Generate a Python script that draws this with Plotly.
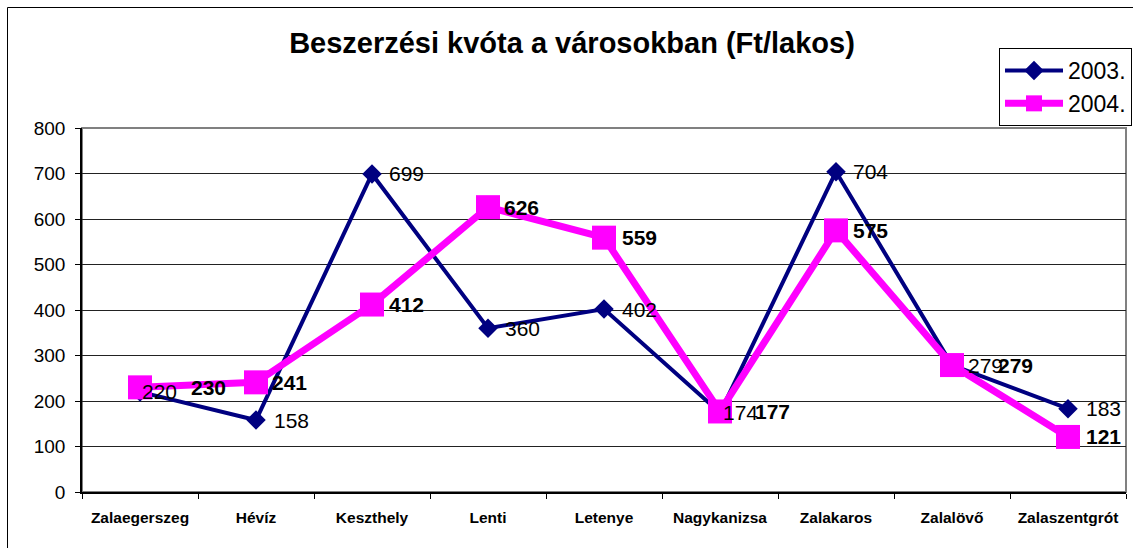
import plotly.graph_objects as go

categories = ["Zalaegerszeg", "Hévíz", "Keszthely", "Lenti", "Letenye",
              "Nagykanizsa", "Zalakaros", "Zalalövő", "Zalaszentgrót"]
values_2003 = [220, 158, 699, 360, 402, 174, 704, 279, 183]
values_2004 = [230, 241, 412, 626, 559, 177, 575, 279, 121]
series_names = ["2003.", "2004."]
title_text = "Beszerzési kvóta a városokban (Ft/lakos)"
y_ticks = [0, 100, 200, 300, 400, 500, 600, 700, 800]

# label horizontal offsets (pixels, style only)
shift_2003 = [0, 16, 15, 15, 16, 1, 15, 14, 16]
shift_2004 = [49, 14, 15, 14, 16, 33, 15, 44, 16]

FONT = "Liberation Sans, Arial, sans-serif"

fig = go.Figure()
fig.add_trace(go.Scatter(
    x=categories, y=values_2003, name=series_names[0], mode="lines+markers",
    line=dict(color="#000080", width=4),
    marker=dict(symbol="diamond", size=15, color="#000080"),
))
fig.add_trace(go.Scatter(
    x=categories, y=values_2004, name=series_names[1], mode="lines+markers",
    line=dict(color="#FF00FF", width=7),
    marker=dict(symbol="square", size=24, color="#FF00FF"),
))

annotations = []
for c, v, s in zip(categories, values_2003, shift_2003):
    annotations.append(dict(x=c, y=v, xref="x", yref="y", text=str(v),
                            showarrow=False, xanchor="left", yanchor="middle",
                            xshift=s, font=dict(family=FONT, size=21, color="black")))
for c, v, s in zip(categories, values_2004, shift_2004):
    annotations.append(dict(x=c, y=v, xref="x", yref="y", text="<b>%d</b>" % v,
                            showarrow=False, xanchor="left", yanchor="middle",
                            xshift=s, font=dict(family=FONT, size=21, color="black")))

W, H = 1133, 548
L, R, T, B = 82, 7, 128, 56
pw, ph = W - L - R, H - T - B

def px_x(x):
    return (x - L) / pw

def px_y(y):
    return (H - B - y) / ph

shapes = [
    # plot area border (gray)
    dict(type="rect", xref="paper", yref="paper", x0=0, x1=1, y0=0, y1=1,
         line=dict(color="#808080", width=2), layer="below"),
    # outer chart border
    dict(type="rect", xref="paper", yref="paper",
         x0=px_x(7.5), x1=px_x(1145), y0=px_y(560), y1=px_y(7.5),
         line=dict(color="black", width=1), layer="below"),
]

fig.update_layout(
    width=W, height=H,
    margin=dict(l=L, r=R, t=T, b=B, autoexpand=False),
    paper_bgcolor="white", plot_bgcolor="white",
    font=dict(family=FONT, color="black"),
    title=dict(text="<b>%s</b>" % title_text, x=572 / W, y=1 - 43 / H,
               xanchor="center", yanchor="middle",
               font=dict(family=FONT, size=29, color="black")),
    showlegend=True,
    legend=dict(x=px_x(999), y=px_y(48), xanchor="left", yanchor="top",
                bgcolor="white", bordercolor="black", borderwidth=1,
                font=dict(family=FONT, size=23, color="black"),
                itemwidth=58, tracegroupgap=0),
    xaxis=dict(type="category", showgrid=False, showline=True,
               linecolor="black", linewidth=1.5,
               ticks="outside", tickson="boundaries", ticklen=5,
               tickcolor="black", ticklabelstandoff=11,
               tickfont=dict(family=FONT, size=15.5, color="black"),
               tickprefix="<b>", ticksuffix="</b>",
               range=[-0.5, 8.5], fixedrange=True),
    yaxis=dict(range=[0, 800], tickvals=y_ticks, showgrid=True,
               gridcolor="#222222", gridwidth=1, showline=True,
               linecolor="black", linewidth=1.5, zeroline=False,
               ticks="outside", ticklen=5, tickcolor="black",
               ticklabelstandoff=6,
               tickfont=dict(family=FONT, size=19, color="black"),
               fixedrange=True),
    annotations=annotations,
    shapes=shapes,
)

fig.write_html(
    "out.html",
    config={"displayModeBar": False},
    post_script="document.body.style.margin='0';document.body.style.overflow='hidden';",
)
